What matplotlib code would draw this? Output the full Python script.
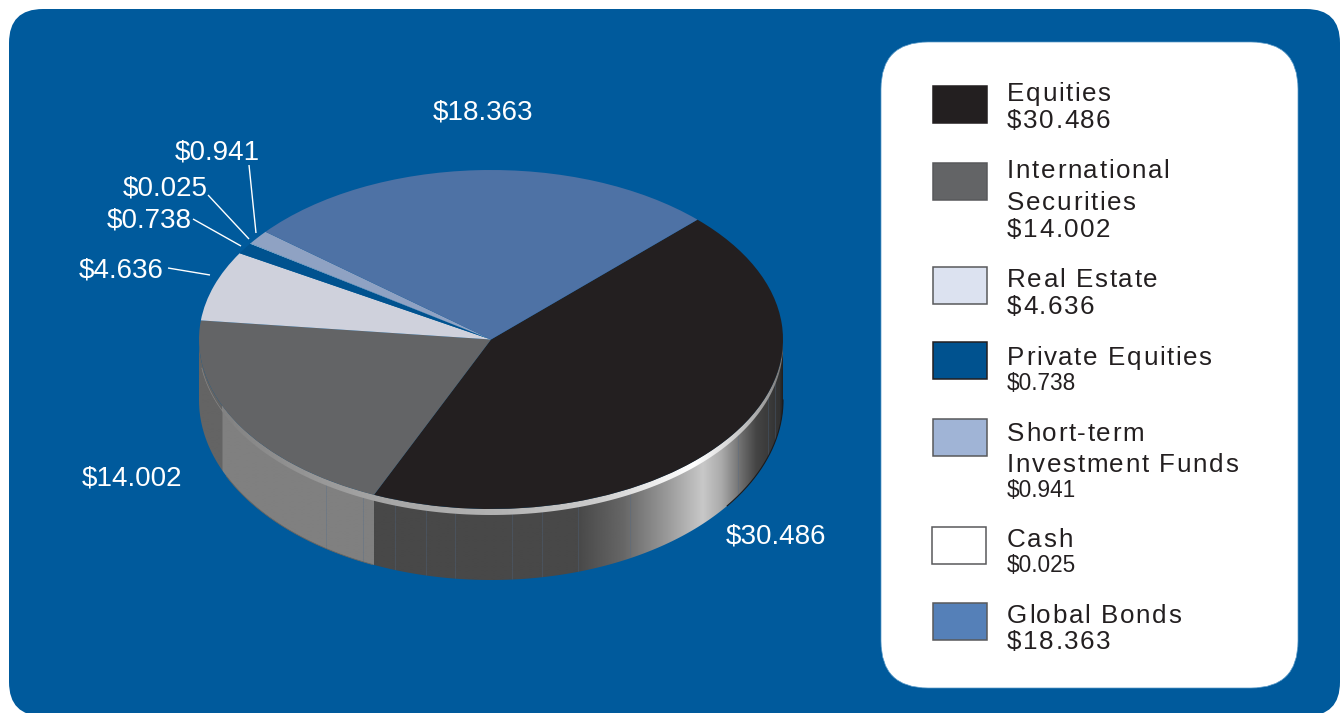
import matplotlib
matplotlib.use('Agg')
import matplotlib.pyplot as plt
import numpy as np
from matplotlib.patches import FancyBboxPatch, PathPatch, Rectangle
from matplotlib.path import Path
from matplotlib.text import Text
from matplotlib.transforms import IdentityTransform

plt.rcParams['font.family'] = ['Liberation Sans', 'DejaVu Sans']

# holdings, in legend order
categories = [['Equities'], ['International', 'Securities'], ['Real Estate'], ['Private Equities'],
              ['Short-term', 'Investment Funds'], ['Cash'], ['Global Bonds']]
values = [30.486, 14.002, 4.636, 0.738, 0.941, 0.025, 18.363]
value_labels = ['$30.486', '$14.002', '$4.636', '$0.738', '$0.941', '$0.025', '$18.363']
# order of the slices clockwise round the pie
pie_order = [0, 1, 2, 3, 5, 4, 6]

top_colors = ['#231f20', '#636466', '#cfd1dc', '#00528f', '#8fa2c3', '#ffffff', '#4e72a5']
swatch_colors = ['#231f20', '#636466', '#dce2f0', '#00528f', '#a0b4d6', '#ffffff', '#5580b8']

BLUE = '#005a9c'
W, H = 1342, 713
CX, CY, RX, RY = 491, 339.5, 292, 169.5
LOW_CY, LOW_RY = 400, 180
RIM = 6
START = 45


def px(size):
    return size * 0.72


class SpacedText(Text):
    # one text with extra room between the letters, matplotlib has no letter spacing
    def __init__(self, x, y, s, spacing=0, **kw):
        super().__init__(x, y, s, **kw)
        self.spacing = spacing

    def draw(self, renderer):
        s = self.get_text()
        x0, y0 = self.get_transform().transform(self.get_position())
        fp = self.get_fontproperties()
        w_of = lambda t: renderer.get_text_width_height_descent(t, fp, False)[0]
        for i, ch in enumerate(s):
            if ch == ' ':
                continue
            off = w_of(s[:i] + ch) - w_of(ch) if i else 0
            t = Text(x0 + off + i * self.spacing, y0, ch, fontproperties=fp, color=self.get_color(),
                     va='baseline', ha='left', transform=IdentityTransform())
            t.set_figure(self.get_figure())
            t.draw(renderer)


def edge(a0, a1, cy=CY, ry=RY, n=200):
    t = np.radians(np.linspace(a0, a1, n))
    return np.column_stack([CX + RX * np.cos(t), cy - ry * np.sin(t)])


def closed(upper, lower):
    pts = np.vstack([upper, lower[::-1]])
    return Path(np.vstack([pts, pts[0]]), closed=True)


def wall(a0, a1):
    return closed(edge(a0, a1), edge(a0, a1, LOW_CY, LOW_RY))


def shaded(ax, path, stops, zorder):
    xs = np.arange(CX - RX - 1, CX + RX + 2)
    stop_x = [s[0] for s in stops]
    stop_v = [s[1] for s in stops]
    row = np.interp(xs, stop_x, stop_v).reshape(1, -1)
    ys = path.vertices[:, 1]
    im = ax.imshow(row, cmap='gray', vmin=0, vmax=255, aspect='auto', zorder=zorder,
                   extent=(xs[0], xs[-1], ys.max() + 1, ys.min() - 1), interpolation='bilinear')
    im.set_clip_path(PathPatch(path, transform=ax.transData))


fig = plt.figure(figsize=(W / 100, H / 100), dpi=100, facecolor='white')
ax = fig.add_axes([0, 0, 1, 1])
ax.set_axis_off()

# blue ground and white legend panel
ax.add_patch(FancyBboxPatch((9 + 34, 9 + 34), 1331 - 68, 707 - 68, boxstyle='round,pad=34,rounding_size=34',
                            fc=BLUE, ec='none', zorder=0))
ax.add_patch(FancyBboxPatch((881 + 47, 42 + 47), 417 - 94, 646 - 94, boxstyle='round,pad=47,rounding_size=47',
                            fc='white', ec='#5a9ac8', lw=0.5, zorder=1))

# slice angles from the values, clockwise from START
total = sum(values)
sweep = [values[i] / total * 360 for i in pie_order]
eq_end = START - sweep[0]

# side wall of the two slices facing the viewer
left_edge = 222
eq_stops = [(0, 72), (577, 72), (623, 102), (667, 153), (703, 200), (722, 170), (743, 105), (757, 68),
            (780, 50), (784, 28)]
intl_stops = [(0, 100), (left_edge - 0.5, 100), (left_edge + 0.5, 128), (800, 128)]
eq_wall = wall(0, eq_end)
intl_wall = wall(eq_end, -180)
shaded(ax, eq_wall, eq_stops, 2)
shaded(ax, intl_wall, intl_stops, 2)

# seams in the wall
eq_seams = [395, 426, 455, 512, 542, 578, 630, 738, 768, 775]
intl_seams = [326, 363]
for seams, w in ((eq_seams, eq_wall), (intl_seams, intl_wall)):
    lines = ax.vlines(seams, 300, 600, color='#4f6a8a', lw=0.5, alpha=0.45, zorder=3)
    lines.set_clip_path(PathPatch(w, transform=ax.transData))

# light rim under the top face
rim_start = -180 + np.degrees(np.arccos((CX - left_edge) / RX))
rim_stops = [(200, 125), (378, 165), (500, 178), (600, 205), (660, 240), (695, 255), (730, 215), (770, 150),
             (784, 110)]
shaded(ax, closed(edge(0, rim_start), edge(0, rim_start, CY + RIM)), rim_stops, 4)

# faint line carrying the rim on to the far left of the wall
faint = edge(-172, rim_start, CY + RIM - 1)
ax.plot(faint[:, 0], faint[:, 1], color='#a8a8a8', lw=0.4, alpha=0.6, zorder=4)

# dark outline along the lower edge
low = edge(-36, 0, LOW_CY, LOW_RY)
ax.plot(low[:, 0], low[:, 1], color='#1c1a1b', lw=0.8, zorder=3)
low = edge(-155, -114, LOW_CY, LOW_RY)
ax.plot(low[:, 0], low[:, 1], color='#6b6660', lw=0.6, zorder=3)

ax.set_xlim(0, W)
ax.set_ylim(H, 0)

# top face, the box of this axes stretches the circle to an ellipse
pie_ax = fig.add_axes([(CX - RX) / W, 1 - (CY + RY) / H, 2 * RX / W, 2 * RY / H], zorder=2)
pie_ax.patch.set_visible(False)
pie_ax.pie([values[i] for i in pie_order], colors=[top_colors[i] for i in pie_order], startangle=START,
           counterclock=False, radius=1, wedgeprops={'linewidth': 0})
pie_ax.set_aspect('auto')
pie_ax.set_xlim(-1, 1)
pie_ax.set_ylim(-1, 1)

# value labels with their leader lines
label_pos = {6: (433, 120), 4: (175, 159), 5: (123, 195), 3: (107, 227), 2: (79, 278), 1: (82, 485.5), 0: (726, 543.5)}
leaders = {4: ((249, 165), (256, 233)), 5: ((208, 195), (249, 239)), 3: ((193, 219), (241, 246)),
           2: ((168, 268), (210, 275))}
text_ax = fig.add_axes([0, 0, 1, 1], zorder=3)
text_ax.set_axis_off()
text_ax.set_xlim(0, W)
text_ax.set_ylim(H, 0)
for i, (x, y) in label_pos.items():
    text_ax.text(x, y, value_labels[i], color='white', fontsize=px(27.7), va='baseline', ha='left')
for a, b in leaders.values():
    text_ax.plot([a[0], b[0]], [a[1], b[1]], color='white', lw=1.0, solid_capstyle='butt')

# legend entries
swatch_tops = [86, 163, 267, 342, 419, 527, 603]
line_baselines = [[101], [178, 210], [287], [365], [441, 472], [547], [623]]
value_baselines = [128, 237, 314, 390, 497, 572, 649]
small_value = [False, False, False, True, True, True, False]
for i, names in enumerate(categories):
    edge_col = {0: '#231f20', 3: '#231f20'}.get(i, '#58595b')
    text_ax.add_patch(Rectangle((933 - (i == 5), swatch_tops[i]), 54, 37, fc=swatch_colors[i], ec=edge_col, lw=1.1))
    for name, y in zip(names, line_baselines[i]):
        text_ax.add_artist(SpacedText(1007, y, name, spacing=1.6, color='#231f20', fontsize=px(26),
                                      va='baseline', transform=text_ax.transData))
    if small_value[i]:
        text_ax.text(1007, value_baselines[i], value_labels[i], color='#231f20', fontsize=px(22.6), va='baseline')
    else:
        text_ax.add_artist(SpacedText(1007, value_baselines[i], value_labels[i], spacing=1.6, color='#231f20',
                                      fontsize=px(26), va='baseline', transform=text_ax.transData))

fig.savefig('out.png', dpi=100, facecolor='white')
